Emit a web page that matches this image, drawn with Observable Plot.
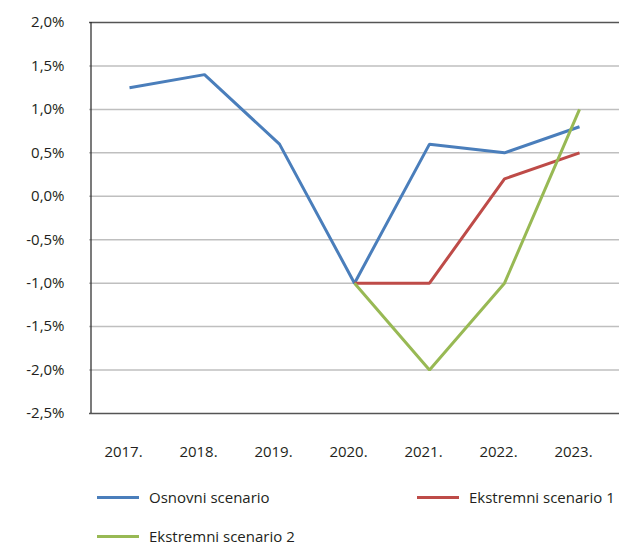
<!DOCTYPE html>
<html>
<head>
<meta charset="utf-8">
<script src="https://cdn.jsdelivr.net/npm/d3@7"></script>
<script src="https://cdn.jsdelivr.net/npm/@observablehq/plot@0.6"></script>
<style>
  body { margin: 0; background: #fff; font-family: "Open Sans", "Noto Sans", sans-serif; }
  #wrap { position: relative; width: 619px; height: 545px; overflow: hidden; }
  .leg { position: absolute; font-size: 15px; line-height: 16px; height: 16px; color: #231f20; display: flex; align-items: center; white-space: nowrap; }
  .leg span.sw { display: inline-block; width: 42px; height: 3px; margin-right: 10px; }
</style>
</head>
<body>
<div id="wrap"></div>
<script>
const years = ["2017.", "2018.", "2019.", "2020.", "2021.", "2022.", "2023."];
const osnovni = [1.25, 1.4, 0.6, -1.0, 0.6, 0.5, 0.8];
const ekstremni1 = [null, null, null, -1.0, -1.0, 0.2, 0.5];
const ekstremni2 = [null, null, null, -1.0, -2.0, -1.0, 1.0];
const seriesNames = ["Osnovni scenario", "Ekstremni scenario 1", "Ekstremni scenario 2"];
const seriesColors = ["#4a7ebb", "#be4b48", "#98b954"];
const yTicks = [2.0, 1.5, 1.0, 0.5, 0.0, -0.5, -1.0, -1.5, -2.0, -2.5];

const allSeries = [osnovni, ekstremni1, ekstremni2];
const data = [];
allSeries.forEach((vals, si) => {
  vals.forEach((v, i) => {
    if (v !== null) data.push({series: seriesNames[si], year: years[i], value: v});
  });
});

const fmt = v => (v < 0 ? "-" : "") + Math.abs(v).toFixed(1).replace(".", ",") + "%";

const chart = Plot.plot({
  width: 619,
  height: 470,
  marginLeft: 89,
  marginRight: 0,
  marginTop: 22,
  marginBottom: 57,
  style: {fontFamily: "'Open Sans', 'Noto Sans', sans-serif", fontSize: "15px", color: "#231f20", background: "#fff"},
  x: {type: "point", domain: years, padding: 0.5, axis: null},
  y: {domain: [-2.5, 2.0], axis: null},
  color: {domain: seriesNames, range: seriesColors},
  marks: [
    Plot.ruleY(yTicks.filter(t => t !== 2.0 && t !== -2.5), {stroke: "#bfbfbf", strokeWidth: 1.5}),
    Plot.ruleY([2.0, -2.5], {stroke: "#555", strokeWidth: 1.5}),
    Plot.ruleX([0], {x: () => years[0], dx: -38.5, y1: -2.5, y2: 2.0, stroke: "#222", strokeWidth: 1.2}),
    Plot.axisY(yTicks, {tickSize: 0, tickPadding: 25, tickFormat: fmt, fontSize: 15, label: null}),
    Plot.axisX(years, {tickSize: 0, tickPadding: 33, fontSize: 15, dx: -6, label: null}),
    Plot.line(data, {x: "year", y: "value", z: "series", stroke: "series", strokeWidth: 3, strokeLinejoin: "miter", strokeLinecap: "butt"})
  ]
});

const wrap = document.getElementById("wrap");
wrap.appendChild(chart);

const legendPos = [
  {left: 97, top: 497},
  {left: 417, top: 497},
  {left: 97, top: 536}
];
seriesNames.forEach((name, i) => {
  const d = document.createElement("div");
  d.className = "leg";
  d.style.left = legendPos[i].left + "px";
  d.style.top = (legendPos[i].top - 8) + "px";
  const sw = document.createElement("span");
  sw.className = "sw";
  sw.style.background = seriesColors[i];
  d.appendChild(sw);
  d.appendChild(document.createTextNode(name));
  wrap.appendChild(d);
});
</script>
</body>
</html>
